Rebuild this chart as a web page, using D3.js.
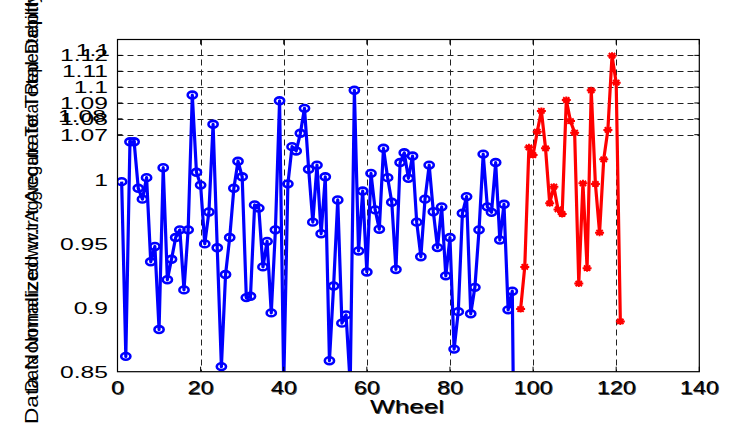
<!DOCTYPE html>
<html><head><meta charset="utf-8">
<script src="https://cdn.jsdelivr.net/npm/d3@7"></script>
<style>body{margin:0;background:#fff}svg{display:block}text{font-family:"Liberation Sans",Arial,sans-serif}</style>
</head><body>
<script>
// ---- data ----
const blueStart = 1;
const blueValues = [
0.9987,0.862,1.059,1.059,0.9935,0.985,1.0036,0.936,0.948,0.883,
1.019,0.922,0.938,0.955,0.961,0.914,0.961,1.095,1.012,0.996,
0.95,0.975,1.0766,0.947,0.854,0.926,0.955,0.9935,1.029,1.005,
0.908,0.909,0.9805,0.978,0.932,0.952,0.896,0.961,1.0914,0.84,
0.997,1.0515,1.0448,1.0709,1.0866,1.0165,0.967,1.023,0.958,1.005,
0.8586,0.917,0.9844,0.888,0.8945,0.84,1.098,0.9445,0.9914,0.928,
1.0103,0.9766,0.9615,1.049,1.0036,0.9826,0.930,1.027,1.042,1.0026,
1.037,0.967,0.940,0.985,1.023,0.9752,0.9471,0.979,0.925,0.955,
0.8677,0.897,0.974,0.987,0.8953,0.916,0.961,1.040,0.979,0.9747,
1.027,0.953,0.981,0.8984,0.913,0.6];
const redStart = 97;
const redValues = [0.899,0.932,1.0505,1.0386,1.0719,1.085,1.049,0.9818,0.9948,0.977,
0.9734,1.0919,1.0786,1.0713,0.919,0.9974,0.931,1.098,0.9969,0.9588,
1.0319,1.073,1.1198,1.1028,0.8893];
const xTicks = [0,20,40,60,80,100,120,140];
const xGrid = [20,40,60,80,100,120];
const yTicksLower = [0.85,0.9,0.95,1];
const yTicksUpper = [1.07,1.08,1.09,1.1,1.11,1.12];
const xLabel = "Wheel";
const yLabelA = "Data Normalized w.r.t Accurate Total Depth";
const yLabelB = "Data Normalized w.r.t Aggregate Total Repeatability";

const W=731,H=425;
const L=117.5,R=699.3,T=39.5,B=371.7;
const x=d3.scaleLinear().domain([0,140]).range([L,R]);
const y=d3.scaleLinear().domain([0.85,1,1.07,1.13]).range([B,180,134.7,T]);

const svg=d3.select("body").append("svg").attr("width",W).attr("height",H);
svg.append("defs").append("clipPath").attr("id","clip")
  .append("rect").attr("x",L).attr("y",T).attr("width",R-L).attr("height",B-T);

// grid
const grid=svg.append("g").attr("stroke","#222").attr("stroke-width",1).attr("stroke-dasharray","6,4");
grid.selectAll("line.v").data(xGrid).join("line").attr("class","v")
  .attr("x1",d=>Math.round(x(d))+0.5).attr("x2",d=>Math.round(x(d))+0.5).attr("y1",T).attr("y2",B);
grid.selectAll("line.h").data(yTicksUpper).join("line").attr("class","h")
  .attr("x1",L).attr("x2",R).attr("y1",d=>Math.round(y(d))+0.5).attr("y2",d=>Math.round(y(d))+0.5);

// series
const plot=svg.append("g").attr("clip-path","url(#clip)");
const blue=blueValues.map((v,i)=>({w:blueStart+i,v}));
const red=redValues.map((v,i)=>({w:redStart+i,v}));
const line=d3.line().x(d=>x(d.w)).y(d=>y(d.v));
plot.append("path").datum(blue).attr("d",line).attr("fill","none").attr("stroke","#0000ff").attr("stroke-width",3.2).attr("stroke-linejoin","round");
plot.selectAll("ellipse").data(blue).join("ellipse").attr("cx",d=>x(d.w)).attr("cy",d=>y(d.v))
  .attr("rx",4.6).attr("ry",3.4).attr("fill","none").attr("stroke","#0000ff").attr("stroke-width",2.6);
plot.append("path").datum(red).attr("d",line).attr("fill","none").attr("stroke","#ff0000").attr("stroke-width",3.2).attr("stroke-linejoin","round");
const star="M-4.5,0H4.5M0,-3.5V3.5M-3.2,-2.6L3.2,2.6M-3.2,2.6L3.2,-2.6";
plot.selectAll("path.star").data(red).join("path").attr("class","star")
  .attr("transform",d=>`translate(${x(d.w)},${y(d.v)})`).attr("d",star)
  .attr("fill","none").attr("stroke","#ff0000").attr("stroke-width",2);

// frame & ticks
svg.append("rect").attr("x",L).attr("y",T).attr("width",R-L).attr("height",B-T)
  .attr("fill","none").attr("stroke","#000").attr("stroke-width",1.2);
const tk=svg.append("g").attr("stroke","#000").attr("stroke-width",1);
tk.selectAll("line.xb").data(xTicks).join("line").attr("class","xb")
  .attr("x1",d=>x(d)).attr("x2",d=>x(d)).attr("y1",B).attr("y2",B-5);
tk.selectAll("line.xt").data(xTicks).join("line").attr("class","xt")
  .attr("x1",d=>x(d)).attr("x2",d=>x(d)).attr("y1",T).attr("y2",T+5);
tk.selectAll("line.yl").data(yTicksUpper).join("line").attr("class","yl")
  .attr("x1",L).attr("x2",L+5).attr("y1",d=>y(d)).attr("y2",d=>y(d));
tk.selectAll("line.yr").data(yTicksUpper).join("line").attr("class","yr")
  .attr("x1",R).attr("x2",R-5).attr("y1",d=>y(d)).attr("y2",d=>y(d));

function stext(g,tx,ty,str,sx,anchor,fs,fill){
  g.append("text").attr("transform",`translate(${tx},${ty}) scale(${sx},1)`)
   .attr("text-anchor",anchor).attr("font-size",fs).attr("fill",fill||"#000").text(str);
}
// x tick labels (doubled look)
const xl=svg.append("g");
xTicks.forEach(d=>{
  stext(xl,x(d)+1,395,String(d),1.3,"middle",18,"#444");
  stext(xl,x(d),394,String(d),1.3,"middle",18,"#000");
});
// x label
stext(xl,408,414,xLabel,1.45,"middle",18,"#444");
stext(xl,407,413,xLabel,1.45,"middle",18,"#000");

// y tick labels
const yl=svg.append("g");
yTicksLower.concat(yTicksUpper).forEach(d=>{
  stext(yl,108,y(d)+6,String(d),1.45,"end",17,"#000");
});
// overlapping artifacts of the doubled axis
stext(yl,110,y(1.12)+1,"1.1",1.45,"end",17,"#000");
stext(yl,106,y(1.08)+3,"1.08",1.45,"end",17,"#000");

// y label (two overlapping)
svg.append("text").attr("transform","translate(38,424) rotate(-90)").attr("font-size",19)
  .attr("textLength",430).attr("lengthAdjust","spacingAndGlyphs").text(yLabelA);
svg.append("text").attr("transform","translate(38,392) rotate(-90)").attr("font-size",19)
  .attr("textLength",398).attr("lengthAdjust","spacingAndGlyphs").text(yLabelB);
</script>
</body></html>
